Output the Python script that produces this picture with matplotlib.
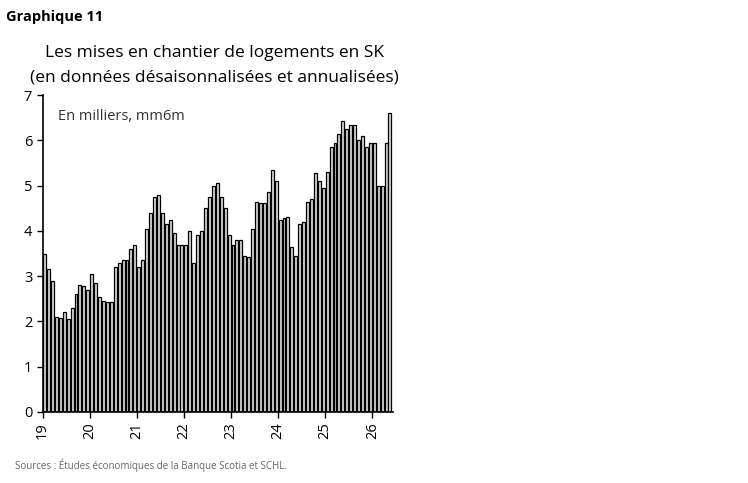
import numpy as np
import matplotlib
matplotlib.use('Agg')
import matplotlib.pyplot as plt

plt.rcParams['font.family'] = ['Open Sans', 'DejaVu Sans']

# monthly values, thousands of units, Jan 2019 - May 2026
v2019 = [3.5, 3.15, 2.9, 2.1, 2.08, 2.2, 2.05, 2.3, 2.6, 2.8, 2.78, 2.7]
v2020 = [3.05, 2.85, 2.55, 2.45, 2.42, 2.43, 3.2, 3.3, 3.35, 3.35, 3.6, 3.7]
v2021 = [3.2, 3.35, 4.05, 4.4, 4.75, 4.8, 4.4, 4.15, 4.25, 3.95, 3.7, 3.7]
v2022 = [3.68, 4.0, 3.3, 3.9, 4.0, 4.5, 4.75, 5.0, 5.05, 4.75, 4.5, 3.9]
v2023 = [3.7, 3.8, 3.8, 3.45, 3.42, 4.05, 4.65, 4.62, 4.62, 4.85, 5.35, 5.1]
v2024 = [4.25, 4.28, 4.3, 3.65, 3.45, 4.15, 4.2, 4.65, 4.7, 5.28, 5.1, 4.95]
v2025 = [5.3, 5.85, 5.95, 6.15, 6.42, 6.25, 6.35, 6.35, 6.0, 6.1, 5.85, 5.95]
v2026 = [5.95, 5.0, 5.0, 5.95, 6.6]
values = v2019 + v2020 + v2021 + v2022 + v2023 + v2024 + v2025 + v2026
year_labels = ['19', '20', '21', '22', '23', '24', '25', '26']

fig = plt.figure(figsize=(7.48, 4.83), dpi=100)
ax = fig.add_axes([0.057, 0.147, 0.468, 0.656])

x = np.arange(len(values))
ax.bar(x, values, width=0.75, color='#d9d9d9', edgecolor='black', linewidth=0.9)

ax.set_ylim(0, 7)
ax.set_xlim(-0.5, len(values) - 0.3)
ax.set_yticks(range(8))
ax.set_xticks([12 * i - 0.5 for i in range(len(year_labels))])
ax.set_xticklabels(year_labels, rotation=90)
ax.tick_params(labelsize=10.5, length=4, width=1, colors='black')
for s in ['top', 'right']:
    ax.spines[s].set_visible(False)
ax.spines['left'].set_linewidth(1.2)
ax.spines['bottom'].set_linewidth(1.2)

ax.text(0.045, 0.955, 'En milliers, mm6m', transform=ax.transAxes, fontsize=10.5,
        va='top', color='#333333')

fig.text(0.008, 0.965, 'Graphique 11', fontsize=10.5, fontweight='bold', va='center')
fig.text(0.287, 0.89, 'Les mises en chantier de logements en SK', fontsize=12.5,
         ha='center', va='center')
fig.text(0.287, 0.84, '(en données désaisonnalisées et annualisées)', fontsize=12.5,
         ha='center', va='center')
fig.text(0.02, 0.036, 'Sources : Études économiques de la Banque Scotia et SCHL.',
         fontsize=7, color='#666666', va='center')

fig.savefig('out.png', dpi=100)
